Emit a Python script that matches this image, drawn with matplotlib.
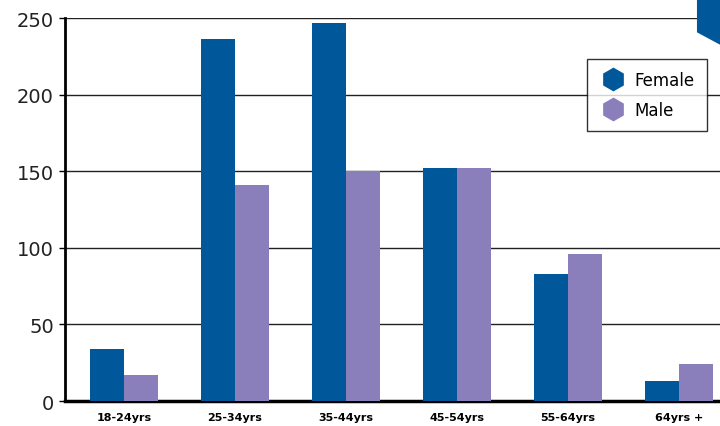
import numpy as np
import matplotlib.pyplot as plt
from matplotlib.lines import Line2D
from matplotlib.patches import Polygon

ages = ['18-24yrs', '25-34yrs', '35-44yrs', '45-54yrs', '55-64yrs', '64yrs +']
female = [34, 236, 247, 152, 83, 13]
male = [17, 141, 150, 152, 96, 24]

c_female = '#00589A'
c_male = '#8A7EBB'

plt.rcParams['font.family'] = ['DejaVu Sans']

fig = plt.figure(figsize=(7.2, 4.27), dpi=100)
ax = fig.add_axes([0.0903, 0.0585, 0.9097, 0.897])

x = np.arange(len(ages))
w = 0.306
ax.bar(x - w / 2, female, w, color=c_female, zorder=3)
ax.bar(x + w / 2, male, w, color=c_male, zorder=3)

ax.set_ylim(0, 250)
ax.set_xlim(-0.53, 5.37)
ax.set_yticks(range(0, 251, 50))
ax.yaxis.grid(True, color='#222222', linewidth=1.0, zorder=0)
ax.set_axisbelow(True)

for s in ['top', 'right']:
    ax.spines[s].set_visible(False)
ax.spines['left'].set_linewidth(2)
ax.spines['bottom'].set_linewidth(2.5)

ax.set_xticks(x)
ax.set_xticklabels(ages, fontsize=8, fontweight='bold')
ax.tick_params(axis='x', length=0, pad=8)
ax.tick_params(axis='y', labelsize=14, length=4, width=1, pad=4, labelcolor='#222222')

# hexagon corner decoration
fig.patches.append(Polygon([[0.968, 1.0], [1.0, 1.0], [1.0, 0.893], [0.968, 0.922]],
                           closed=True, transform=fig.transFigure,
                           facecolor=c_female, edgecolor='none'))

handles = [
    Line2D([], [], marker='h', linestyle='none', markersize=16, color=c_female, label='Female'),
    Line2D([], [], marker='h', linestyle='none', markersize=16, color=c_male, label='Male'),
]
leg = fig.legend(handles=handles, loc='upper left', bbox_to_anchor=(0.815, 0.86),
                 fontsize=12, frameon=True, fancybox=False, edgecolor='black',
                 handletextpad=0.5, borderpad=0.75, labelspacing=0.7, handlelength=1.6,
                 borderaxespad=0)
leg.get_frame().set_linewidth(1)

fig.savefig('out.png', dpi=100)
